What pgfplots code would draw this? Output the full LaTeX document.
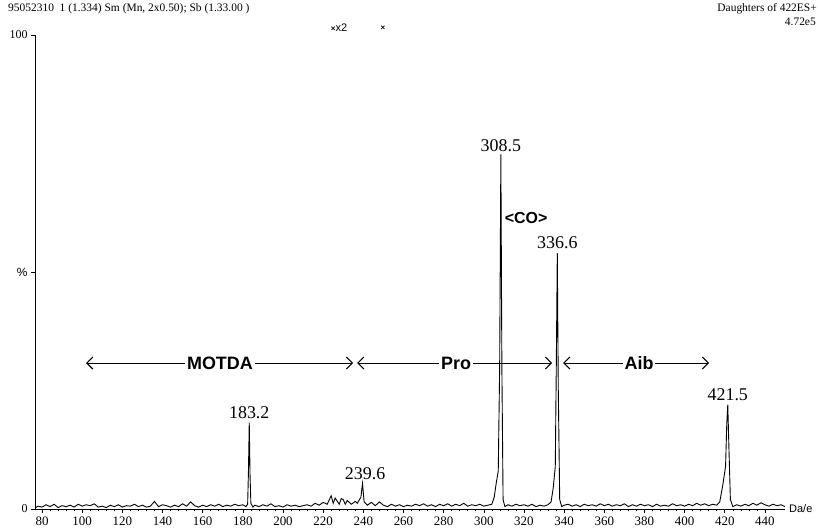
\documentclass[border=0pt]{standalone}
\usepackage{fontspec}
\setmainfont{Liberation Serif}
\setsansfont{Liberation Sans}
\usepackage{pgfplots}
\pgfplotsset{compat=1.18}
\usetikzlibrary{arrows.meta}

\tikzset{
  span/.style={line width=0.8bp,
    {Straight Barb[length=6bp,width=12bp,line width=1.1bp]}-{Straight Barb[length=6bp,width=12bp,line width=1.1bp]}},
  region/.style={fill=white,inner sep=2bp,font=\sffamily\bfseries\fontsize{18}{18}\selectfont},
  peak/.style={anchor=south,inner sep=1bp,font=\fontsize{18}{18}\selectfont}
}

\begin{document}
\begin{tikzpicture}
\begin{axis}[
  name=ax, at={(0,0)}, anchor=south west,
  scale only axis, width=750bp, height=474bp,
  xmin=76.5, xmax=450, ymin=0, ymax=100,
  axis x line=bottom, axis y line=left,
  axis line style={-,line width=0.8bp},
  xtick={80,100,...,440}, minor x tick num=4,
  ytick={0,50,100}, yticklabels={0,{\sffamily\%},100},
  tick align=outside, major tick length=4bp, minor tick length=2.5bp,
  tick style={black,line width=0.6bp},
  ticklabel style={font=\fontsize{13}{13}\selectfont},
  yticklabel style={font=\fontsize{12}{12}\selectfont},
  /pgf/number format/assume math mode=true,
  clip=false
]
\addplot[black,line width=0.9bp,mark=none] coordinates {
(76.5,0.2)(78,0.6)(80,0.4)(82,0.9)(84,0.5)(86,1.0)(88,0.3)(90,0.7)(92,0.5)(94,0.8)
(96,0.4)(98,1.0)(100,0.6)(102,0.9)(104,0.7)(106,1.1)(108,0.4)(110,0.6)(112,0.3)(114,0.8)
(116,0.5)(118,0.9)(120,0.4)(122,0.7)(124,0.6)(126,1.0)(128,0.5)(130,0.8)(132,0.4)(134,0.6)
(136,1.6)(138,0.5)(140,0.9)(142,0.7)(144,0.4)(146,0.8)(148,0.5)(150,1.1)(152,0.6)(154,1.5)
(156,0.7)(158,0.4)(160,0.8)(162,0.5)(164,0.9)(166,0.6)(168,1.0)(170,0.5)(172,0.8)(174,0.6)
(176,1.0)(178,0.7)(180,0.9)(181.5,0.5)(182.4,1.0)(182.8,8)(183.2,18.2)(183.6,7)(184.0,1.2)
(185,0.4)(186,0.8)(188,0.5)(190,0.9)(192,0.6)(194,1.1)(196,0.5)(198,0.7)(200,0.4)(202,0.9)
(204,0.6)(206,0.8)(208,0.5)(210,0.7)(212,0.9)(214,0.6)(216,1.2)(218,0.8)(220,1.4)(222,1.0)
(224,2.8)(225,1.2)(226,2.3)(228,1.0)(229,2.2)(230,2.0)(231,1.0)(232,1.8)(234,1.0)(236,1.6)
(237,1.2)(238.8,2.5)(239.6,5.4)(240.4,1.5)(242,0.8)(244,1.4)(246,0.7)(248,1.5)(250,0.8)
(252,0.5)(254,1.0)(256,0.6)(258,0.9)(260,0.5)(262,0.8)(264,0.6)(266,1.0)(268,0.7)(270,1.1)
(272,0.6)(274,0.9)(276,0.5)(278,1.0)(280,0.7)(282,1.1)(284,0.6)(286,1.0)(288,0.7)(290,1.2)
(292,0.6)(294,0.9)(296,0.7)(298,1.0)(300,0.6)(302,0.8)(304,1.0)(305.2,2.5)(306.2,5.5)
(307.2,8)(307.9,30)(308.5,74.8)(309.0,30)(309.6,2)(310.5,0.5)(312,0.9)(314,0.6)(316,1.0)
(318,0.7)(320,0.9)(322,0.6)(324,1.0)(326,0.5)(328,0.8)(330,0.6)(332,0.9)(333.5,1.5)
(334.6,4.5)(335.6,9)(336.1,30)(336.6,54)(337.1,25)(337.8,2)(338.8,0.5)(340,0.8)(342,1.0)
(344,0.6)(346,0.9)(348,0.5)(350,1.0)(352,0.7)(354,0.9)(356,0.6)(358,1.1)(360,0.7)(362,1.0)
(364,0.6)(366,0.9)(368,0.7)(370,1.1)(372,0.5)(374,0.9)(376,0.6)(378,1.0)(380,0.7)(382,0.9)
(384,0.5)(386,1.0)(388,0.6)(390,0.8)(392,0.6)(394,1.1)(396,0.7)(398,0.9)(400,0.6)(402,1.0)
(404,0.7)(406,1.2)(408,0.8)(410,1.1)(412,0.7)(414,1.0)(416,0.8)(417.5,1.5)(419,5)(420.4,9)
(421.0,18)(421.5,22)(422.0,14)(422.8,2)(424,0.5)(426,0.9)(428,0.6)(430,1.0)(432,0.7)
(434,1.2)(436,0.8)(438,1.3)(440,0.9)(442,0.6)(444,1.0)(446,0.7)(448,0.9)(450,0.5)
};
% peak labels
\node[peak] at (axis cs:308.5,75.2) {308.5};
\node[peak] at (axis cs:336.6,54.6) {336.6};
\node[peak] at (axis cs:421.5,22.5) {421.5};
\node[peak] at (axis cs:183.2,18.7) {183.2};
\node[peak] at (axis cs:240.9,5.9) {239.6};
\node[anchor=west,inner sep=0pt,font=\sffamily\bfseries\fontsize{16}{16}\selectfont]
  at (axis cs:310.4,61.4) {<CO>};
% region arrows
\draw[span] (axis cs:101.9,30.8) -- (axis cs:234.9,30.8);
\draw[span] (axis cs:236.9,30.8) -- (axis cs:334.0,30.8);
\draw[span] (axis cs:339.5,30.8) -- (axis cs:412.2,30.8);
\node[region] at (axis cs:168.6,30.8) {MOTDA};
\node[region] at (axis cs:286.2,30.8) {Pro};
\node[region] at (axis cs:377.3,30.8) {Aib};
\node[anchor=west,inner sep=0pt,font=\sffamily\fontsize{11}{11}\selectfont]
  at (rel axis cs:1,0) [xshift=4bp] {Da/e};
\end{axis}
% header texts
\node[anchor=west,inner sep=0pt,font=\fontsize{11.5}{11.5}\selectfont]
  at (-27bp,500bp) {95052310\enspace 1 (1.334) Sm (Mn, 2x0.50); Sb (1.33.00 )};
\node[anchor=east,inner sep=0pt,font=\fontsize{11.5}{11.5}\selectfont]
  at (782bp,500bp) {Daughters of 422ES+};
\node[anchor=east,inner sep=0pt,font=\fontsize{11.5}{11.5}\selectfont]
  at (781bp,487bp) {4.72e5};
\node[inner sep=0pt,font=\sffamily\fontsize{11}{11}\selectfont]
  at (304bp,481bp) {{\fontsize{8}{8}\selectfont\textbf{×}}x2};
\node[inner sep=0pt,font=\sffamily\bfseries\fontsize{8}{8}\selectfont] at (348bp,481bp) {×};
\pgfresetboundingbox
\path (-35bp,-21bp) rectangle (783bp,509bp);
\end{tikzpicture}
\end{document}
